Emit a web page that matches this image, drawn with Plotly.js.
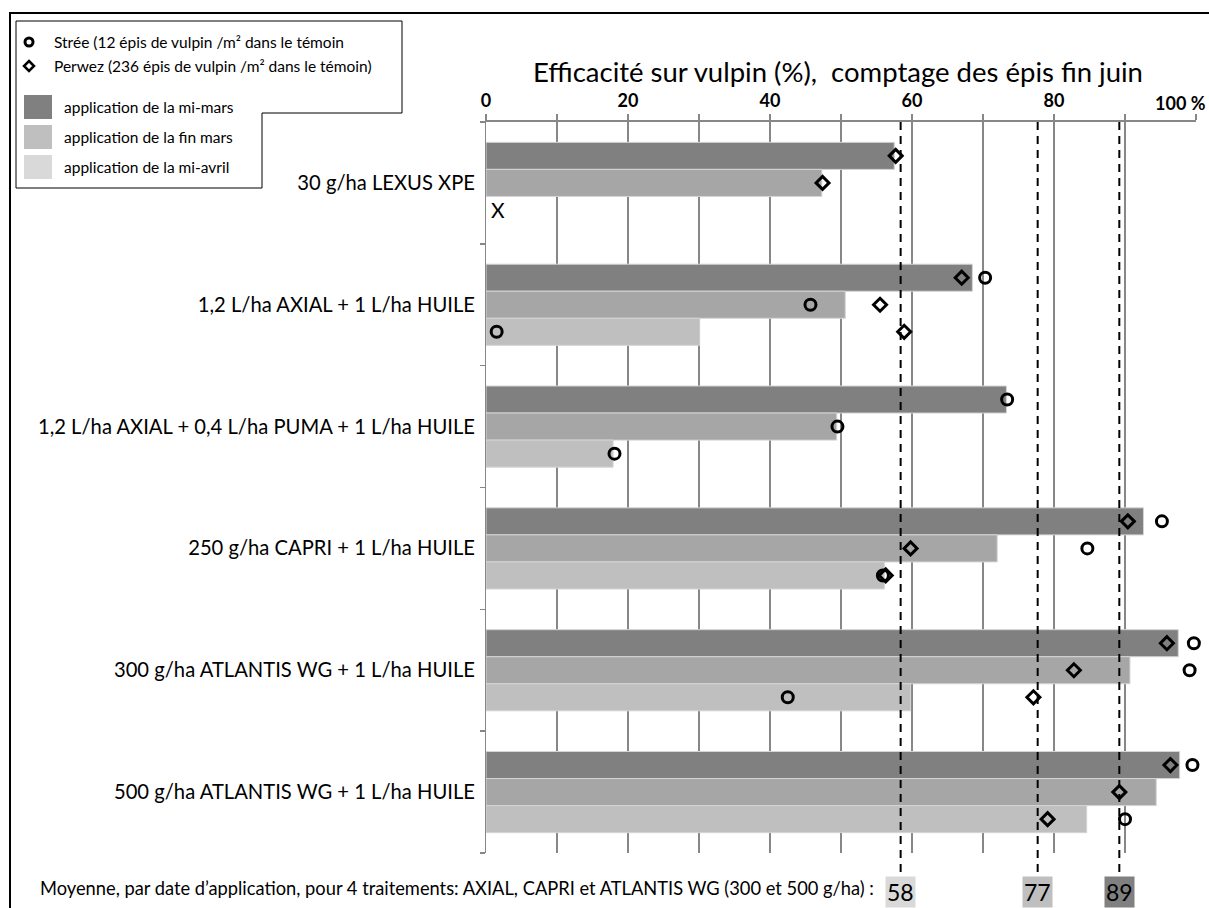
<!DOCTYPE html>
<html><head><meta charset="utf-8">
<script src="https://cdn.plot.ly/plotly-3.0.1.min.js"></script>
<style>html,body{margin:0;padding:0;background:#fff}</style>
</head><body><div id="chart" style="width:1209px;height:908px"></div>
<script>
// ---------- data ----------
const categories = [
  "30 g/ha LEXUS XPE",
  "1,2 L/ha AXIAL + 1 L/ha HUILE",
  "1,2 L/ha AXIAL + 0,4 L/ha PUMA + 1 L/ha HUILE",
  "250 g/ha CAPRI + 1 L/ha HUILE",
  "300 g/ha ATLANTIS WG + 1 L/ha HUILE",
  "500 g/ha ATLANTIS WG + 1 L/ha HUILE"
];
const dateNames = ["application de la mi-mars", "application de la fin mars", "application de la mi-avril"];
const barMiMars  = [57.5, 68.5, 73.3, 92.6, 97.5, 97.7];
const barFinMars = [47.3, 50.6, 49.4, 72.0, 90.7, 94.4];
const barMiAvril = [null, 30.1, 17.9, 56.1, 59.8, 84.6];

const streeMiMars  = [null, 70.3, 73.4, 95.2, 99.7, 99.5];
const streeFinMars = [null, 45.7, 49.5, 84.7, 99.1, 100.1];
const streeMiAvril = [null, 1.5, 18.1, 55.9, 42.5, 90.0];

const perwezMiMars  = [57.7, 67.0, null, 90.4, 95.9, 96.4];
const perwezFinMars = [47.4, 55.5, null, 59.8, 82.8, 89.2];
const perwezMiAvril = [null, 58.9, null, 56.3, 77.1, 79.1];

const meanValues = [58.4, 77.7, 89.2];
const meanLabels = ["58", "77", "89"];

const xTickVals = [0, 10, 20, 30, 40, 50, 60, 70, 80, 90, 100];
const xTickText = ["0", "", "20", "", "40", "", "60", "", "80", "", ""];
const xEndLabel = "100 %";

const legendStree = "Strée (12 épis de vulpin /m² dans le témoin";
const legendPerwez = "Perwez (236 épis de vulpin /m² dans le témoin)";
const titleText = "Efficacité sur vulpin (%),  comptage des épis fin juin";
const bottomText = "Moyenne, par date d’application, pour 4 traitements: AXIAL, CAPRI et ATLANTIS WG (300 et 500 g/ha) :";
const notAppliedText = "X";

// ---------- styles ----------
const barColors = ["#808080", "#a6a6a6", "#bfbfbf"];
const legendColors = ["#808080", "#bfbfbf", "#d9d9d9"];
const meanColors = ["#d9d9d9", "#bfbfbf", "#808080"];
const FONT = "Lato, 'Liberation Sans', sans-serif";
const GRID = "#878787";

// ---------- geometry helpers (pixel -> paper) ----------
const L = 486, R = 1196, T = 122, B = 853;
const px = x => (x - L) / (R - L);
const py = y => (B - y) / (B - T);
const slot = 0.222;
const yPos = j => categories.map((c, i) => i + (j - 1) * slot);

const barSeries = [barMiMars, barFinMars, barMiAvril];
const streeSeries = [streeMiMars, streeFinMars, streeMiAvril];
const perwezSeries = [perwezMiMars, perwezFinMars, perwezMiAvril];

const traces = [];
barSeries.forEach((vals, j) => {
  traces.push({
    type: "bar", orientation: "h", name: dateNames[j],
    x: vals, y: yPos(j), width: slot,
    marker: {color: barColors[j], line: {color: "#d4d4d4", width: 1}},
    hoverinfo: "x+name", showlegend: false
  });
});
traces.push({
  type: "scatter", mode: "markers", name: legendStree, showlegend: false, cliponaxis: false,
  x: [].concat(...streeSeries), y: [].concat(yPos(0), yPos(1), yPos(2)),
  marker: {symbol: "circle-open", size: 11, color: "#000", line: {width: 3, color: "#000"}}
});
traces.push({
  type: "scatter", mode: "markers", name: legendPerwez, showlegend: false, cliponaxis: false,
  x: [].concat(...perwezSeries), y: [].concat(yPos(0), yPos(1), yPos(2)),
  marker: {symbol: "diamond-open", size: 10, color: "#000", line: {width: 3, color: "#000"}}
});

const shapes = [];
const annotations = [];

// outer frame
shapes.push({type: "path", xref: "paper", yref: "paper",
  path: `M${px(10)},${py(908)} L${px(10)},${py(13)} L${px(1209)},${py(13)}`,
  line: {color: "#000", width: 2}});
// legend L-shaped box
shapes.push({type: "path", xref: "paper", yref: "paper",
  path: `M${px(16)},${py(21)} L${px(402)},${py(21)} L${px(402)},${py(113)} L${px(262)},${py(113)} L${px(262)},${py(188)} L${px(16)},${py(188)} Z`,
  line: {color: "#000", width: 1}, fillcolor: "rgba(255,255,255,1)"});
// legend symbols
shapes.push({type: "circle", xref: "paper", yref: "paper",
  x0: px(25), x1: px(33), y0: py(38), y1: py(46), line: {color: "#000", width: 3}});
shapes.push({type: "path", xref: "paper", yref: "paper",
  path: `M${px(29)},${py(61)} L${px(34)},${py(66)} L${px(29)},${py(71)} L${px(24)},${py(66)} Z`,
  line: {color: "#000", width: 2.5}});
legendColors.forEach((c, j) => {
  const top = 95 + j * 30;
  shapes.push({type: "rect", xref: "paper", yref: "paper",
    x0: px(24), x1: px(52), y0: py(top), y1: py(top + 24),
    fillcolor: c, line: {width: 0}});
  annotations.push({xref: "paper", yref: "paper", x: px(62), y: py(top + 12),
    xanchor: "left", yanchor: "middle", showarrow: false, text: dateNames[j],
    font: {family: FONT, size: 15.5, color: "#000"}});
});
annotations.push({xref: "paper", yref: "paper", x: px(52), y: py(42),
  xanchor: "left", yanchor: "middle", showarrow: false, text: legendStree,
  font: {family: FONT, size: 15.5, color: "#000"}});
annotations.push({xref: "paper", yref: "paper", x: px(52), y: py(66),
  xanchor: "left", yanchor: "middle", showarrow: false, text: legendPerwez,
  font: {family: FONT, size: 15.5, color: "#000"}});

// mean dashed lines + labels
meanValues.forEach((v, k) => {
  shapes.push({type: "line", xref: "x", yref: "paper", x0: v, x1: v, y0: py(122), y1: py(879),
    line: {color: "#000", width: 2, dash: "8px,6px"}});
  annotations.push({xref: "x", yref: "paper", x: v, y: py(892), xanchor: "center", yanchor: "middle",
    showarrow: false, text: meanLabels[k], bgcolor: meanColors[k], borderpad: 1,
    font: {family: FONT, size: 23, color: "#000"}});
});

// end label of the value axis
annotations.push({xref: "x", yref: "paper", x: 100, y: py(103), xanchor: "right", yanchor: "middle", xshift: 12,
  showarrow: false, text: xEndLabel, font: {family: FONT, size: 18, weight: "bold", color: "#000"}});
// title
annotations.push({xref: "paper", yref: "paper", x: px(838), y: py(72), xanchor: "center", yanchor: "middle",
  showarrow: false, text: titleText, font: {family: FONT, size: 27.5, color: "#000"}});
// bottom text
annotations.push({xref: "paper", yref: "paper", x: px(38), y: py(888), xanchor: "left", yanchor: "middle",
  showarrow: false, text: bottomText, font: {family: FONT, size: 18.3, color: "#000"}});
// not applied marker
annotations.push({xref: "x", yref: "y", x: 0, y: yPos(2)[0], xanchor: "left", yanchor: "middle", xshift: 3,
  showarrow: false, text: notAppliedText, font: {family: FONT, size: 21, color: "#000"}});

const layout = {
  width: 1209, height: 908, autosize: false,
  margin: {l: L, r: 1209 - R, t: T, b: 908 - B, pad: 0},
  paper_bgcolor: "#fff", plot_bgcolor: "#fff",
  barmode: "overlay", showlegend: false,
  font: {family: FONT, color: "#000"},
  xaxis: {
    range: [0, 100], side: "top", tickmode: "array", tickvals: xTickVals, ticktext: xTickText,
    tickfont: {family: FONT, size: 18, weight: "bold", color: "#000"},
    showgrid: true, gridcolor: GRID, gridwidth: 2,
    showline: true, linecolor: GRID, linewidth: 2,
    ticks: "outside", ticklen: 6, tickwidth: 2, tickcolor: GRID,
    zeroline: false, fixedrange: true
  },
  yaxis: {
    range: [5.5, -0.5], tickmode: "array", tickvals: categories.map((c, i) => i), ticktext: categories,
    tickfont: {family: FONT, size: 20.2, color: "#000"},
    ticks: "", showgrid: false, zeroline: false, showline: true, linecolor: GRID, linewidth: 1,
    ticklabelstandoff: 6,
    minor: {tickmode: "linear", tick0: -0.5, dtick: 1, ticks: "outside", ticklen: 5, tickwidth: 1.5, tickcolor: GRID, showgrid: false},
    fixedrange: true
  },
  shapes: shapes,
  annotations: annotations
};

Plotly.newPlot("chart", traces, layout, {displayModeBar: false, staticPlot: true});
</script>
</body></html>
